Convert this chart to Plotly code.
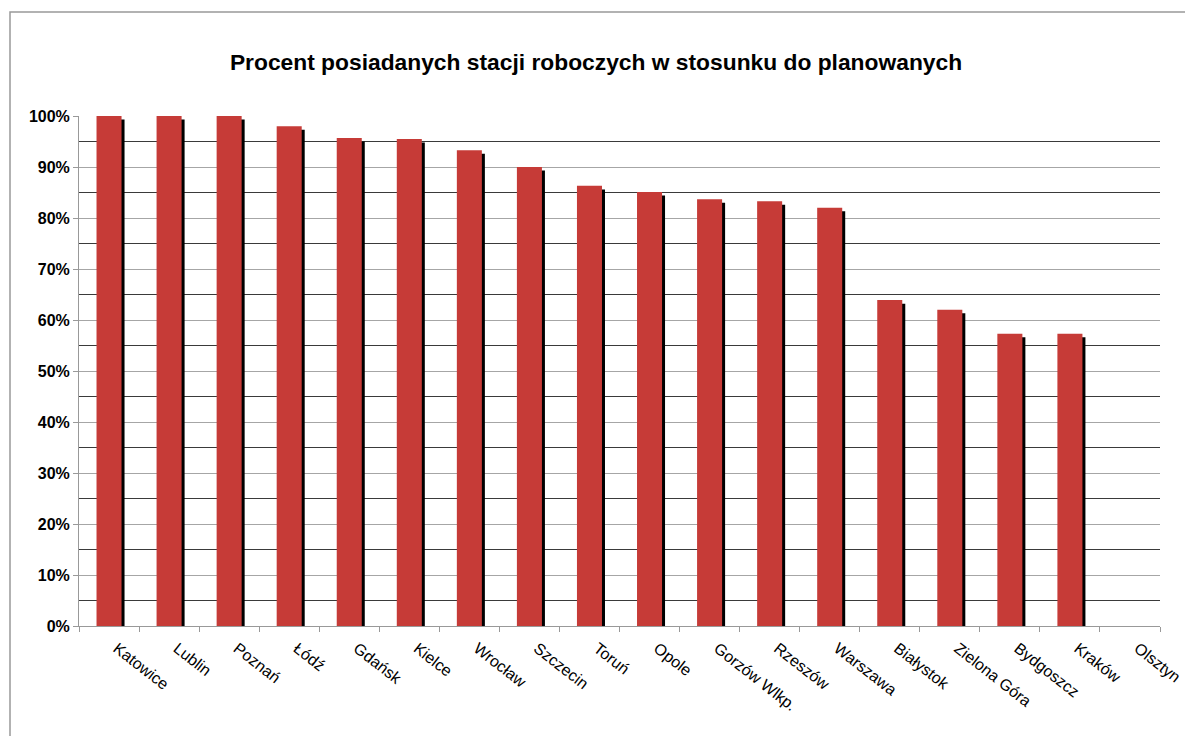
import plotly.graph_objects as go

categories = ["Katowice", "Lublin", "Poznań", "Łódź", "Gdańsk", "Kielce", "Wrocław",
              "Szczecin", "Toruń", "Opole", "Gorzów Wlkp.", "Rzeszów", "Warszawa",
              "Białystok", "Zielona Góra", "Bydgoszcz", "Kraków", "Olsztyn"]
percent_values = [100, 100, 100, 98.0, 95.7, 95.5, 93.3, 90.0, 86.3, 85.1, 83.7, 83.3,
                  82.0, 63.9, 62.0, 57.3, 57.3, 0]
y_tick_values = [0, 10, 20, 30, 40, 50, 60, 70, 80, 90, 100]
y_tick_labels = ["0%", "10%", "20%", "30%", "40%", "50%", "60%", "70%", "80%", "90%", "100%"]
title_text = "Procent posiadanych stacji roboczych w stosunku do planowanych"

BAR_W = 0.4167
SHADOW_SHIFT_X = 0.05
SHADOW_DROP = 0.7

# page body has an 8px offset; layout numbers below account for it
W, H = 1193, 736
ML, MR, MT, MB = 71, 41, 108, 118
PW, PH = W - ML - MR, H - MT - MB

fig = go.Figure()
fig.add_trace(go.Bar(
    x=categories, y=percent_values, base=-SHADOW_DROP,
    width=BAR_W, offset=-BAR_W / 2 + SHADOW_SHIFT_X,
    marker=dict(color="#000000", line=dict(width=0)),
    hoverinfo="skip", showlegend=False,
))
fig.add_trace(go.Bar(
    x=categories, y=percent_values,
    width=BAR_W, offset=-BAR_W / 2,
    marker=dict(color="#c63b37", line=dict(width=0)),
    showlegend=False,
))

fig.update_layout(
    width=W, height=H,
    margin=dict(l=ML, r=MR, t=MT, b=MB, autoexpand=False),
    paper_bgcolor="white", plot_bgcolor="white",
    barmode="overlay",
    font=dict(family="Liberation Sans, Arial, sans-serif", color="black"),
    title=dict(text=title_text, x=588 / W, xanchor="center",
               y=1 - 54 / H, yanchor="middle",
               font=dict(size=22.8, weight="bold",
                         family="Liberation Sans, Arial, sans-serif", color="black")),
    xaxis=dict(
        type="category", tickangle=38, tickson="boundaries",
        ticks="outside", ticklen=5, tickcolor="#999999",
        ticklabelshift=8, ticklabelstandoff=6,
        showline=True, linecolor="#999999", linewidth=1,
        showgrid=False, tickfont=dict(size=16, color="black"),
    ),
    yaxis=dict(
        range=[0, 100], tickvals=y_tick_values, ticktext=y_tick_labels,
        ticks="outside", ticklen=5, tickcolor="#999999",
        showline=True, linecolor="#999999", linewidth=1,
        showgrid=True, gridcolor="#a6a6a6", gridwidth=1,
        minor=dict(dtick=5, showgrid=True, gridcolor="#3a3a3a", gridwidth=1),
        zeroline=False,
        tickfont=dict(size=16, weight="bold", color="black",
                      family="Liberation Sans, Arial, sans-serif"),
    ),
    shapes=[dict(type="rect", xref="paper", yref="paper",
                 x0=(2 - ML) / PW, x1=1.2, y0=-0.4, y1=(H - MB - 4) / PH,
                 line=dict(color="#999999", width=1.5), fillcolor="rgba(0,0,0,0)",
                 layer="below")],
)

fig.write_html("out.html")
